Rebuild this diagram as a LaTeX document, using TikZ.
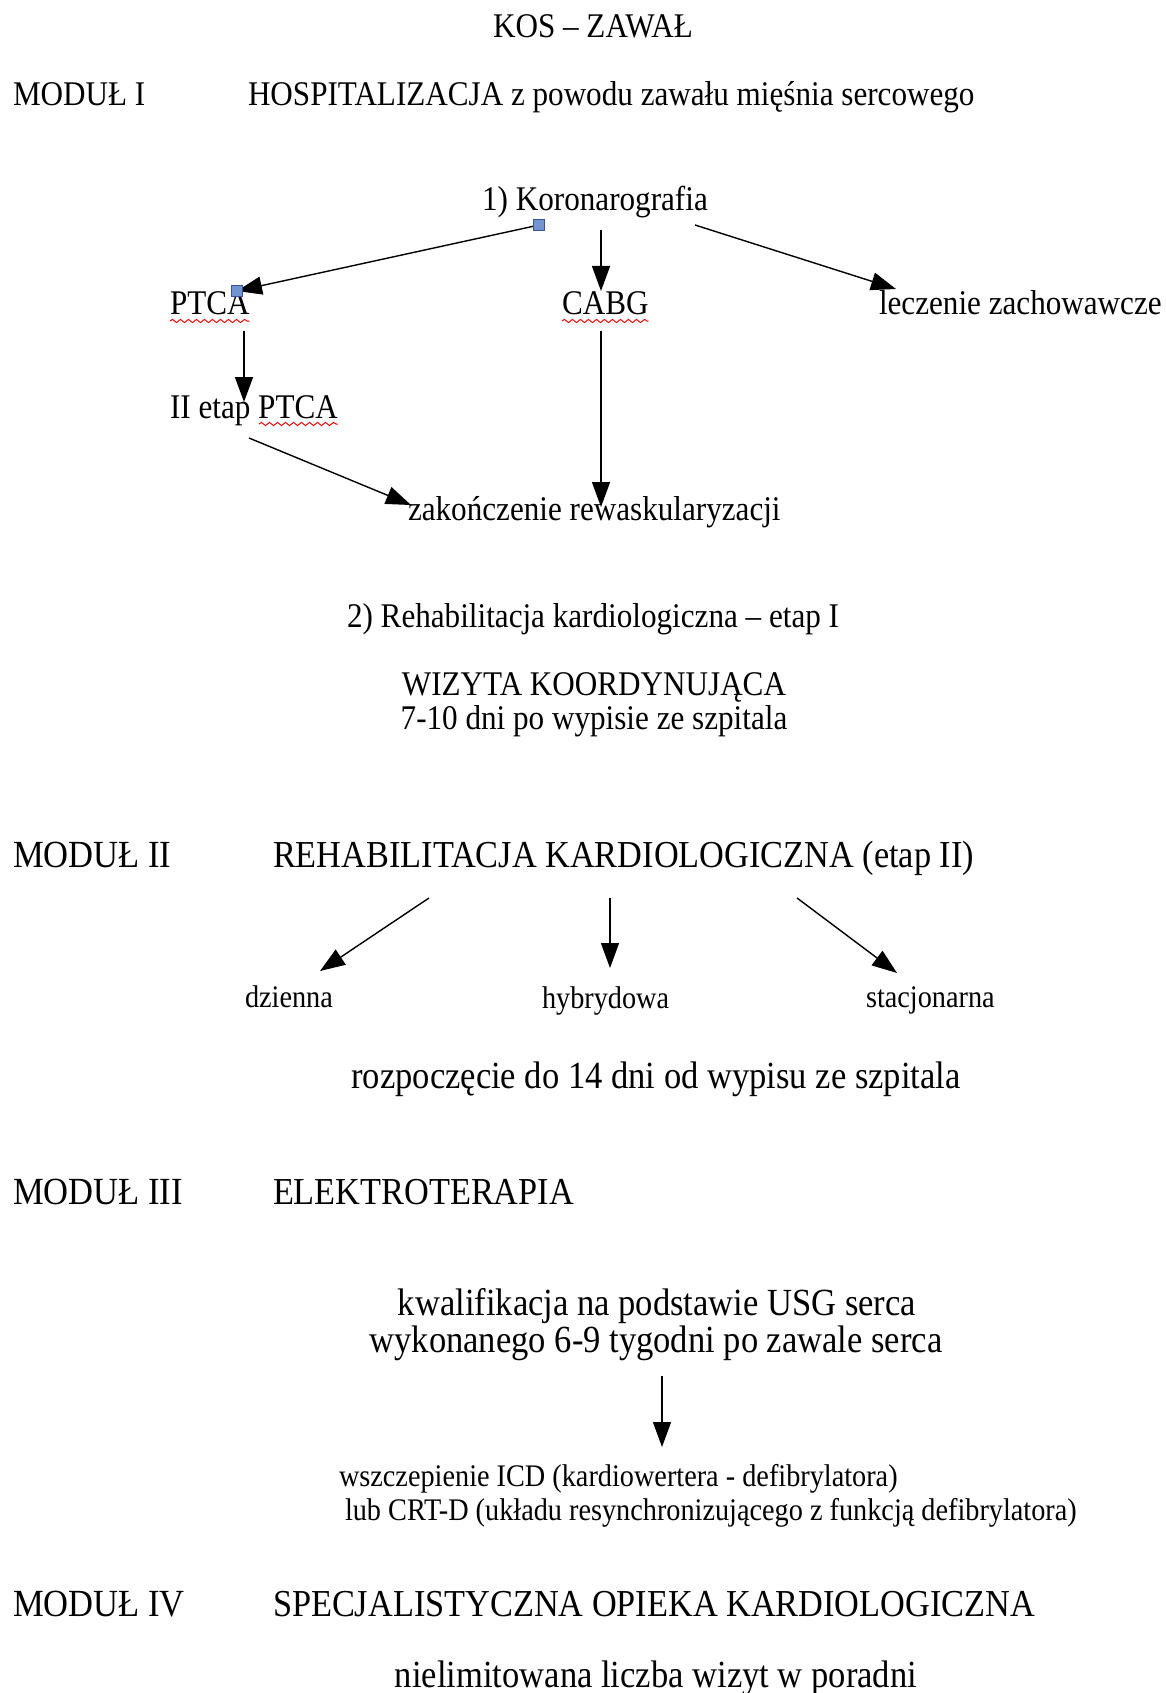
\documentclass[tikz,border=0pt]{standalone}
\usepackage{fontspec}
\setmainfont{Liberation Serif}[FakeStretch=0.9]
\usepackage{tikz}
\usetikzlibrary{arrows.meta, calc, positioning, decorations.pathmorphing}
\definecolor{handleblue}{rgb}{0.45, 0.58, 0.82}
\definecolor{handleedge}{rgb}{0.22, 0.33, 0.6}

\begin{document}
\begin{tikzpicture}[x=1pt, y=-1pt,
	txt/.style={inner sep=0pt, outer sep=0pt},
	smalltxt/.style={txt, font=\fontsize{34.6}{36}\selectfont},
	headtxt/.style={txt, font=\fontsize{38.1}{40}\selectfont},
	bigtxt/.style={txt, font=\fontsize{38.4}{40}\selectfont},
	tinytxt/.style={txt, font=\fontsize{31.4}{34}\selectfont},
	flow/.style={-{Triangle[length=25pt, width=18pt]}, line width=1.4pt},
	handle/.style={draw=handleedge, fill=handleblue, line width=0.8pt, minimum size=11pt, inner sep=0pt},
	spell/.style={red, line width=1pt, decorate, decoration={snake, amplitude=1.6pt, segment length=8pt}}]
	\fill[white] (0,0) rectangle (1166,1693);
	\useasboundingbox (0,0) rectangle (1166,1693);
	
	\node[smalltxt, anchor=base] (title) at (593,38) {KOS – ZAWAŁ};
	
	\node[smalltxt, anchor=base west] (mod1) at (13,106) {MODUŁ I};
	\node[smalltxt, anchor=base west] (hosp) at (248,106) {HOSPITALIZACJA z powodu zawału mięśnia sercowego};
	\node[smalltxt, anchor=base] (koro) at (595,211) {1) Koronarografia};
	\node[smalltxt, anchor=base west] (ptca) at (170,315) {PTCA};
	\node[smalltxt, anchor=base west] (cabg) at (562,315) {CABG};
	\node[smalltxt, anchor=base west] (lecz) at (879,315) {leczenie zachowawcze};
	\node[smalltxt, anchor=base west] (etap) at (170,418) {II etap PTCA};
	\node[smalltxt, anchor=base west] (zak) at (408,520) {zakończenie rewaskularyzacji};
	\node[smalltxt, anchor=base] (reh1) at (593,627) {2) Rehabilitacja kardiologiczna – etap I};
	\node[smalltxt, anchor=base] (wiz) at (594,695) {WIZYTA KOORDYNUJĄCA};
	\node[smalltxt, anchor=base] (wiz2) at (594,729) {7-10 dni po wypisie ze szpitala};
	
	\draw[spell] ($(ptca.base west)+(0,6)$) -- ($(ptca.base east)+(0,6)$);
	\draw[spell] ($(cabg.base west)+(0,6)$) -- ($(cabg.base east)+(0,6)$);
	\draw[spell] ($(etap.base west)+(89,6)$) -- ($(etap.base east)+(0,6)$);
	
	\coordinate (h1) at ($(koro.base west)+(57,14)$);
	\coordinate (h2) at ($(ptca.base west)+(67,-24)$);
	\draw[flow] (h1) -- (h2);
	\draw[flow] ($(koro.base)+(6,19)$) -- ($(cabg.base west)+(39,-24)$);
	\draw[flow] ($(koro.base)+(100,14)$) -- ($(lecz.base west)+(17,-26)$);
	\draw[flow] ($(ptca.base west)+(74,16)$) -- ($(etap.base west)+(74,-16)$);
	\draw[flow] ($(etap.base west)+(79,20)$) -- ($(zak.base west)+(3,-15)$);
	\draw[flow] ($(cabg.base west)+(39,16)$) -- ($(zak.base west)+(193,-13)$);
	\node[handle] (sq1) at (h1) {};
	\node[handle] (sq2) at (h2) {};
	
	\node[bigtxt, anchor=base west] (mod2) at (13,867) {MODUŁ II};
	\node[headtxt, anchor=base west] (reh2) at (273,867) {REHABILITACJA KARDIOLOGICZNA (etap II)};
	\node[tinytxt, anchor=base west] (dz) at (245,1007) {dzienna};
	\node[tinytxt, anchor=base west] (hyb) at (542,1008) {hybrydowa};
	\node[tinytxt, anchor=base west] (stac) at (866,1007) {stacjonarna};
	\node[bigtxt, anchor=base] (start14) at (656,1088) {rozpoczęcie do 14 dni od wypisu ze szpitala};
	
	\draw[flow] ($(reh2.base west)+(156,31)$) -- ($(dz.base west)+(75,-36)$);
	\draw[flow] ($(reh2.base west)+(337,31)$) -- ($(hyb.base west)+(68,-40)$);
	\draw[flow] ($(reh2.base west)+(524,31)$) -- ($(stac.base west)+(31,-34)$);
	
	\node[bigtxt, anchor=base west] (mod3) at (13,1204) {MODUŁ III};
	\node[headtxt, anchor=base west] (elek) at (273,1204) {ELEKTROTERAPIA};
	\node[bigtxt, anchor=base] (kwal) at (657,1315) {kwalifikacja na podstawie USG serca};
	\node[bigtxt, anchor=base] (kwal2) at (656,1352) {wykonanego 6-9 tygodni po zawale serca};
	\node[tinytxt, anchor=base west] (wsz) at (339,1486) {wszczepienie ICD (kardiowertera - defibrylatora)};
	\node[tinytxt, anchor=base west] (wsz2) at (345,1520) {lub CRT-D (układu resynchronizującego z funkcją defibrylatora)};
	
	\draw[flow] ($(kwal2.base)+(6,24)$) -- ($(wsz.base west)+(323,-39)$);
	
	\node[bigtxt, anchor=base west] (mod4) at (13,1616) {MODUŁ IV};
	\node[headtxt, anchor=base west] (spec) at (273,1616) {SPECJALISTYCZNA OPIEKA KARDIOLOGICZNA};
	\node[bigtxt, anchor=base] (niel) at (656,1687) {nielimitowana liczba wizyt w poradni};
\end{tikzpicture}
\end{document}
